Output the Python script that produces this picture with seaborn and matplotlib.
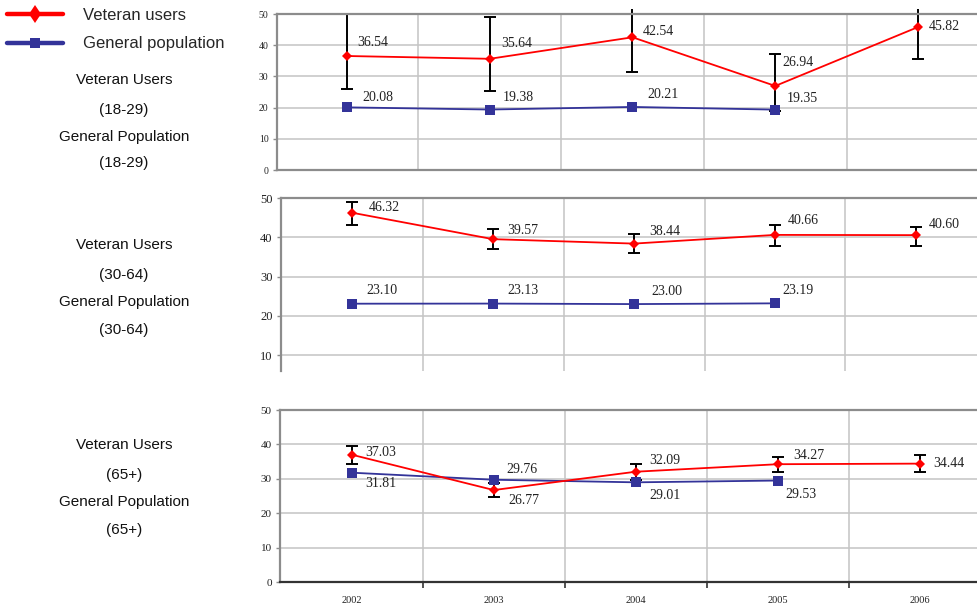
import numpy as np
import pandas as pd
import matplotlib
matplotlib.use("Agg")
import matplotlib.pyplot as plt
from matplotlib.lines import Line2D
from matplotlib.transforms import Bbox, TransformedBbox
import seaborn as sns

# ---------------------------------------------------------------- data
years = ["2002", "2003", "2004", "2005", "2006"]

# Veteran users: estimate with lower / upper confidence bounds
vet_18_29 = [36.54, 35.64, 42.54, 26.94, 45.82]
vet_18_29_lo = [26.0, 25.3, 31.3, 18.9, 35.7]
vet_18_29_hi = [50.0, 49.1, 53.8, 37.2, 55.9]
gen_18_29 = [20.08, 19.38, 20.21, 19.35]

vet_30_64 = [46.32, 39.57, 38.44, 40.66, 40.60]
vet_30_64_lo = [43.3, 37.1, 36.1, 37.9, 37.9]
vet_30_64_hi = [49.1, 42.1, 40.9, 43.3, 42.8]
gen_30_64 = [23.10, 23.13, 23.00, 23.19]

vet_65 = [37.03, 26.77, 32.09, 34.27, 34.44]
vet_65_lo = [34.2, 24.8, 29.7, 31.9, 31.9]
vet_65_hi = [39.5, 28.7, 34.2, 36.4, 36.8]
gen_65 = [31.81, 29.76, 29.01, 29.53]

group_labels = [
    ["Veteran Users", "(18-29)", "General Population", "(18-29)"],
    ["Veteran Users", "(30-64)", "General Population", "(30-64)"],
    ["Veteran Users", "(65+)", "General Population", "(65+)"],
]
series_names = ["Veteran users", "General population"]

# ---------------------------------------------------------------- style
sns.set_theme(style="white")
plt.rcParams["font.family"] = ["Liberation Sans", "DejaVu Sans"]
SERIF = ["Liberation Serif", "DejaVu Serif"]
RED = "#ff0000"
BLUE = "#333399"
GRID = "#c4c4c4"
SPINE = "#8c8c8c"

W, H = 978, 606
fig = plt.figure(figsize=(W / 100, H / 100), dpi=100)
fig.patch.set_facecolor("white")


def px_axes(left, top, bottom):
    return fig.add_axes([left / W, 1 - bottom / H, 1 - left / W, (bottom - top) / H])


# label offsets in pixels (dx, dy) for each annotated value
off_vet = [
    [(10, 13), (12, 15), (10, 6), (7, 23), (11, 1)],
    [(17, 5), (14, 9), (15, 12), (13, 14), (13, 11)],
    [(14, 2), (15, -10), (14, 11), (15, 9), (13, 0)],
]
off_gen = [
    [(15, 10), (13, 12), (15, 12), (11, 11)],
    [(14, 13), (14, 13), (17, 13), (7, 13)],
    [(14, -11), (13, 10), (14, -13), (8, -14)],
]

panels = [
    dict(box=(277, 14, 170), xlim=(-0.49, 4.42), ylim=(0, 50), yticks=range(0, 51, 10),
         ysize=7, vet=vet_18_29, lo=vet_18_29_lo, hi=vet_18_29_hi, gen=gen_18_29,
         text_y=[80, 110, 137, 163]),
    dict(box=(281, 198.3, 370.7), xlim=(-0.504, 4.44), ylim=(6, 50), yticks=range(10, 51, 10),
         ysize=9, vet=vet_30_64, lo=vet_30_64_lo, hi=vet_30_64_hi, gen=gen_30_64,
         text_y=[245, 275, 302, 330]),
    dict(box=(280, 410, 582.3), xlim=(-0.505, 4.41), ylim=(0, 50), yticks=range(0, 51, 10),
         ysize=8, vet=vet_65, lo=vet_65_lo, hi=vet_65_hi, gen=gen_65,
         text_y=[445, 475, 502, 530]),
]

clip = TransformedBbox(Bbox([[0, 0], [1, 1 - 9 / H]]), fig.transFigure)

for i, p in enumerate(panels):
    ax = px_axes(*p["box"])
    ax.set_facecolor("white")

    vet = np.array(p["vet"])
    gen = np.array(p["gen"])
    df_vet = pd.DataFrame({"pos": np.arange(len(vet)), "value": vet})
    df_gen = pd.DataFrame({"pos": np.arange(len(gen)), "value": gen})

    # confidence intervals for veteran users
    eb = ax.errorbar(df_vet["pos"], vet,
                     yerr=[vet - np.array(p["lo"]), np.array(p["hi"]) - vet],
                     fmt="none", ecolor="black", elinewidth=1.4, capsize=4.3,
                     capthick=1.4, zorder=2)
    for art in list(eb[1]) + list(eb[2]):
        art.set_clip_path(None)
        art.set_clip_box(clip)

    sns.lineplot(data=df_gen, x="pos", y="value", ax=ax, color=BLUE, lw=1.3,
                 marker="s", markersize=7, markeredgewidth=0, zorder=3, legend=False)
    sns.lineplot(data=df_vet, x="pos", y="value", ax=ax, color=RED, lw=1.3,
                 marker="D", markersize=5.6, markeredgewidth=0, zorder=4, legend=False)

    for k, v in enumerate(vet):
        ax.annotate(f"{v:.2f}", (k, v), xytext=off_vet[i][k], textcoords="offset pixels",
                    ha="left", va="center", fontsize=10, family=SERIF, color="#222222",
                    annotation_clip=False, zorder=5)
    for k, v in enumerate(gen):
        ax.annotate(f"{v:.2f}", (k, v), xytext=off_gen[i][k], textcoords="offset pixels",
                    ha="left", va="center", fontsize=10, family=SERIF, color="#222222",
                    annotation_clip=False, zorder=5)

    ax.set_xlim(*p["xlim"])
    ax.set_ylim(*p["ylim"])
    ax.set_yticks(list(p["yticks"]))
    ax.set_xticks(range(len(years)))
    ax.set_xticks(np.arange(0.5, len(years) - 1, 1.0), minor=True)
    ax.set_xlabel("")
    ax.set_ylabel("")

    ax.yaxis.grid(True, color=GRID, lw=1.1)
    ax.xaxis.grid(True, which="minor", color=GRID, lw=1.1)
    ax.xaxis.grid(False, which="major")
    ax.set_axisbelow(True)

    for lab in ax.get_yticklabels():
        lab.set_family(SERIF)
    ax.tick_params(axis="y", which="major", length=3, width=1, color=SPINE, pad=3,
                   labelsize=p["ysize"], labelcolor="#222222", left=True)

    ax.spines["right"].set_visible(False)
    for s in ("left", "top"):
        ax.spines[s].set_color(SPINE)
        ax.spines[s].set_linewidth(1.6)

    if i == 2:
        ax.spines["bottom"].set_color("#333333")
        ax.spines["bottom"].set_linewidth(1.6)
        ax.set_xticklabels(years)
        for lab in ax.get_xticklabels():
            lab.set_family(SERIF)
        ax.tick_params(axis="x", which="major", length=0, pad=10, labelsize=7.5,
                       labelcolor="#222222")
        ax.tick_params(axis="x", which="minor", bottom=True, direction="out",
                       length=4, width=1.2, color="#333333")
    else:
        ax.set_xticklabels([])
        ax.tick_params(axis="x", which="both", length=0)
        if i == 0:
            ax.spines["bottom"].set_color(SPINE)
            ax.spines["bottom"].set_linewidth(1.6)
        else:
            ax.spines["bottom"].set_visible(False)

    for txt, y in zip(group_labels[i], p["text_y"]):
        fig.text(124 / W, 1 - y / H, txt, ha="center", va="center", fontsize=11,
                 color="#111111")

# ---------------------------------------------------------------- legend
handles = [
    Line2D([], [], color=RED, lw=3.2, marker="d", markersize=9.5, markeredgewidth=0),
    Line2D([], [], color=BLUE, lw=3.2, marker="s", markersize=7.5, markeredgewidth=0),
]
fig.legend(handles, series_names, loc="upper left", bbox_to_anchor=(7 / W, 1 - 8 / H),
           frameon=False, borderpad=0, borderaxespad=0, handlelength=3.35,
           handletextpad=1.2, labelspacing=0.8, fontsize=12, numpoints=1)

fig.savefig("out.png", dpi=100, facecolor="white")
